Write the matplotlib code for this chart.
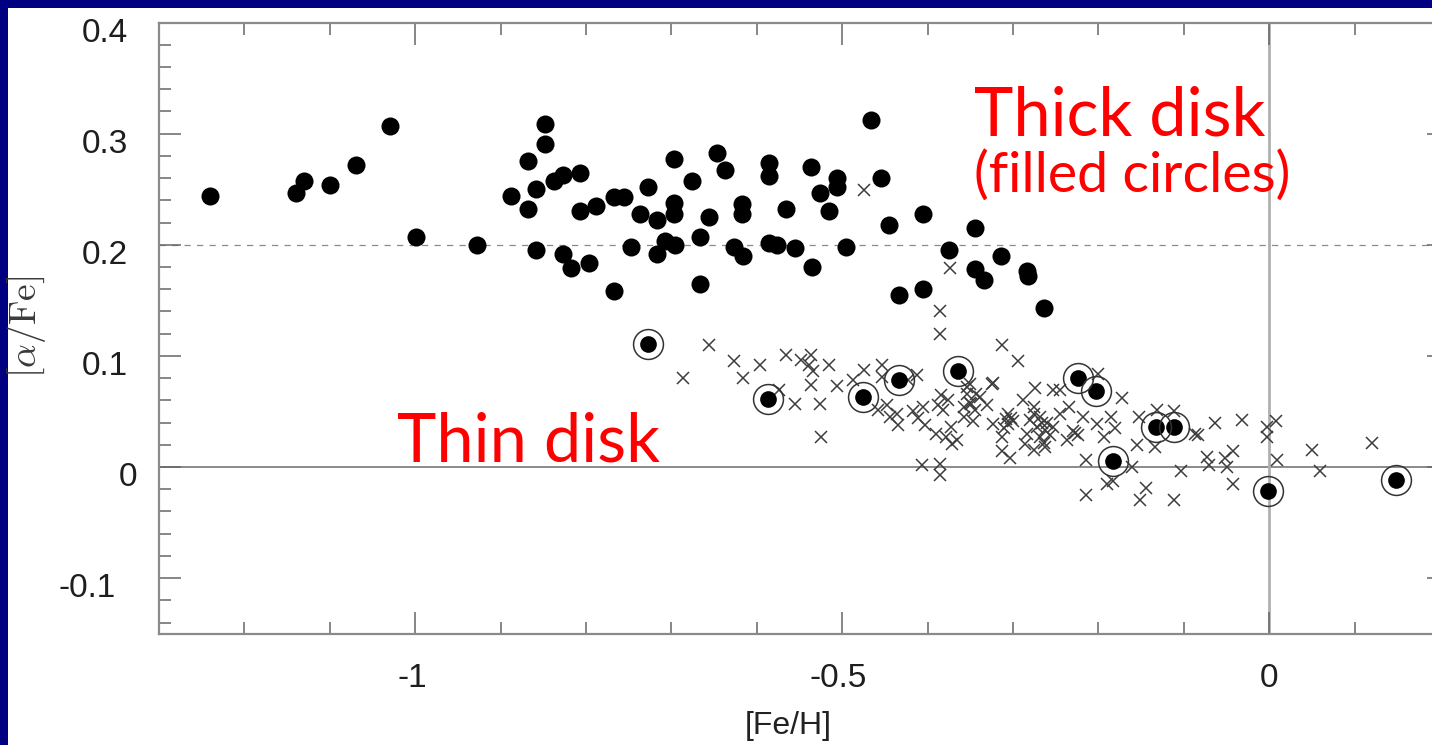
import matplotlib
matplotlib.use('Agg')
import matplotlib.pyplot as plt
from matplotlib.patches import Rectangle
from matplotlib.ticker import MultipleLocator
from matplotlib.transforms import ScaledTranslation

# ---------------- data ----------------
# Thick disk stars (filled circles)
thick_feh = [-1.240, -1.140, -1.130, -1.100, -1.069, -1.029, -0.999, -0.928, -0.888, -0.868,
             -0.868, -0.858, -0.858, -0.848, -0.848, -0.838, -0.827, -0.827, -0.818, -0.807,
             -0.807, -0.797, -0.788, -0.767, -0.756, -0.727, -0.737, -0.717, -0.697, -0.697,
             -0.697, -0.676, -0.647, -0.637, -0.656, -0.617, -0.617, -0.586, -0.586, -0.566,
             -0.536, -0.526, -0.506, -0.506, -0.515, -0.466, -0.455, -0.445, -0.405, -0.345,
             -0.375, -0.314, -0.345, -0.334, -0.284, -0.283, -0.264, -0.434, -0.405, -0.747,
             -0.717, -0.707, -0.696, -0.667, -0.666, -0.627, -0.616, -0.586, -0.576, -0.555,
             -0.535, -0.496, -0.767]
thick_alpha = [0.244, 0.247, 0.257, 0.254, 0.272, 0.307, 0.207, 0.200, 0.244, 0.275,
               0.232, 0.250, 0.195, 0.309, 0.291, 0.257, 0.263, 0.192, 0.179, 0.265,
               0.230, 0.184, 0.235, 0.243, 0.243, 0.252, 0.228, 0.222, 0.277, 0.238,
               0.228, 0.257, 0.283, 0.267, 0.225, 0.237, 0.228, 0.274, 0.262, 0.232,
               0.270, 0.247, 0.260, 0.252, 0.230, 0.312, 0.260, 0.218, 0.228, 0.215,
               0.195, 0.190, 0.178, 0.168, 0.176, 0.172, 0.143, 0.155, 0.160, 0.198,
               0.192, 0.203, 0.200, 0.207, 0.165, 0.198, 0.190, 0.202, 0.200, 0.197,
               0.180, 0.198, 0.158]

# Thick disk stars lying in the thin-disk sequence (encircled filled circles)
ring_feh = [-0.727, -0.587, -0.476, -0.434, -0.364, -0.224, -0.203, -0.133, -0.112, -0.183,
            -0.002, 0.148]
ring_alpha = [0.111, 0.061, 0.063, 0.078, 0.086, 0.080, 0.068, 0.036, 0.036, 0.005,
              -0.022, -0.012]

# Thin disk stars (crosses)
thin_feh = [-0.475, -0.374, -0.386, -0.386,
            -0.656, -0.687, -0.627, -0.616, -0.596, -0.566, -0.548, -0.536, -0.539, -0.516,
            -0.536, -0.506, -0.555, -0.526, -0.525, -0.574, -0.487, -0.475, -0.454, -0.313,
            -0.294, -0.323, -0.407, -0.386, -0.386, -0.304, -0.313, -0.534, -0.350, -0.343,
            -0.454, -0.413, -0.423, -0.458, -0.448, -0.436, -0.435, -0.444, -0.417, -0.411,
            -0.405, -0.403, -0.384, -0.388, -0.376, -0.382, -0.354, -0.349, -0.345, -0.358,
            -0.358, -0.339, -0.331, -0.325, -0.347, -0.354, -0.390, -0.378, -0.372, -0.366,
            -0.373, -0.323, -0.313, -0.306, -0.306, -0.302, -0.310, -0.288, -0.274, -0.284,
            -0.286, -0.276, -0.272, -0.269, -0.276, -0.263, -0.257, -0.253, -0.245, -0.253,
            -0.245, -0.235, -0.237, -0.230, -0.224, -0.218, -0.214, -0.214, -0.200, -0.202,
            -0.194, -0.185, -0.181, -0.183, -0.190,
            -0.276, -0.173, -0.161, -0.153, -0.155, -0.144, -0.151, -0.132, -0.134, -0.112,
            -0.103, -0.112, -0.083, -0.087, -0.073, -0.071, -0.064, -0.052, -0.042, -0.050,
            -0.042, -0.032, -0.003, -0.003, 0.008, 0.009, 0.050, 0.059, 0.120,
            -0.300, -0.308, -0.350, -0.227, -0.262, -0.266, -0.264, -0.280, -0.268, -0.260]
thin_alpha = [0.249, 0.179, 0.140, 0.120,
              0.110, 0.080, 0.095, 0.080, 0.092, 0.101, 0.096, 0.101, 0.092, 0.092,
              0.074, 0.073, 0.057, 0.057, 0.027, 0.069, 0.078, 0.087, 0.092, 0.110,
              0.095, 0.076, 0.002, 0.003, -0.007, 0.008, 0.014, 0.086, 0.075, 0.066,
              0.081, 0.083, 0.078, 0.051, 0.056, 0.048, 0.038, 0.045, 0.050, 0.044,
              0.054, 0.038, 0.065, 0.056, 0.060, 0.051, 0.066, 0.057, 0.051, 0.054,
              0.045, 0.063, 0.056, 0.075, 0.041, 0.072, 0.030, 0.027, 0.021, 0.024,
              0.036, 0.039, 0.027, 0.048, 0.039, 0.044, 0.035, 0.060, 0.071, 0.030,
              0.021, 0.048, 0.036, 0.027, 0.015, 0.018, 0.029, 0.069, 0.069, 0.036,
              0.048, 0.054, 0.024, 0.032, 0.029, 0.045, 0.006, -0.025, 0.084, 0.039,
              0.027, 0.045, 0.035, -0.013, -0.015,
              0.054, 0.062, 0.000, 0.045, 0.020, -0.019, -0.030, 0.051, 0.018, 0.050,
              -0.004, -0.030, 0.029, 0.030, 0.009, 0.002, 0.040, 0.008, 0.014, 0.000,
              -0.015, 0.042, 0.036, 0.027, 0.041, 0.006, 0.015, -0.004, 0.022,
              0.041, 0.043, 0.058, 0.031, 0.033, 0.040, 0.022, 0.042, 0.045, 0.040]

x_ticks = [-1, -0.5, 0]
x_ticklabels = ['-1', '-0.5', '0']
y_ticks = [-0.1, 0, 0.1, 0.2, 0.3, 0.4]
y_ticklabels = ['-0.1', '0', '0.1', '0.2', '0.3', '0.4']

# ---------------- figure ----------------
plt.rcParams['font.family'] = ['Liberation Sans', 'DejaVu Sans']
plt.rcParams['mathtext.fontset'] = 'cm'

W, H = 1432, 745
fig = plt.figure(figsize=(W / 100, H / 100), dpi=100, facecolor='#000080')
fig.patches.append(Rectangle((8 / W, 0), 1, 1 - 8 / H, transform=fig.transFigure,
                             facecolor='white', edgecolor='none', zorder=-10))

AX_L, AX_R, AX_T, AX_B = 159.0, 1448.6, 22.6, 633.7   # pixel box of the axes
ax = fig.add_axes([AX_L / W, (H - AX_B) / H, (AX_R - AX_L) / W, (AX_B - AX_T) / H])
ax.set_facecolor('white')
ax.set_xlim(-1.3, 0.21)
ax.set_ylim(-0.15, 0.4)

ax.axhline(0.2, color='#8a8a8a', lw=0.9, ls=(0, (5, 5)), zorder=1)
ax.axhline(0.0, color='#8a8a8a', lw=1.4, zorder=1)
ax.axvline(0.0, color='#b0b0b0', lw=2.0, zorder=1)

ax.plot(thin_feh, thin_alpha, ls='none', marker='x', ms=8.8, mew=1.1,
        color='#3c3c3c', zorder=3)
ax.plot(thick_feh, thick_alpha, ls='none', marker='o', ms=13, mfc='black',
        mec='black', mew=0, zorder=4)
ax.plot(ring_feh, ring_alpha, ls='none', marker='o', ms=12, mfc='black',
        mec='black', mew=0, zorder=5)
ax.plot(ring_feh, ring_alpha, ls='none', marker='o', ms=21.5, mfc='none',
        mec='#333333', mew=1.1, zorder=5)

for s in ax.spines.values():
    s.set_color('#8a8a8a')
    s.set_linewidth(1.6)

ax.set_xticks(x_ticks)
ax.set_yticks(y_ticks)
ax.xaxis.set_minor_locator(MultipleLocator(0.1))
ax.yaxis.set_minor_locator(MultipleLocator(0.02))
ax.tick_params(which='both', direction='in', top=True, right=True, color='#666666',
               width=1.1, labelbottom=False, labelleft=False)
ax.tick_params(which='major', length=15.8)
ax.tick_params(which='minor', length=8.6)

# tick labels placed like the original (numbers sit slightly below their ticks,
# aligned on the decimal point)
TICK_FS = 24
y_right_px = {'0.4': 128, '0.3': 128, '0.2': 128, '0.1': 128, '0': 137, '-0.1': 116}
ytrans = ax.get_yaxis_transform() + ScaledTranslation(0, -19 / 100, fig.dpi_scale_trans)
for v, lab in zip(y_ticks, y_ticklabels):
    ax.text((y_right_px[lab] - AX_L) / (AX_R - AX_L), v, lab, transform=ytrans,
            ha='right', va='baseline', fontsize=TICK_FS, color='#1e1e1e', clip_on=False)

x_shift_px = {'-1': -3, '-0.5': -4, '0': 0}
for v, lab in zip(x_ticks, x_ticklabels):
    xtrans = ax.get_xaxis_transform() + ScaledTranslation(x_shift_px[lab] / 100, 0,
                                                          fig.dpi_scale_trans)
    ax.text(v, (AX_B - 687) / (AX_B - AX_T), lab, transform=xtrans, ha='center',
            va='baseline', fontsize=TICK_FS, color='#1e1e1e', clip_on=False)

ax.set_xlabel('[Fe/H]', fontsize=23, color='#222222')
ax.xaxis.set_label_coords(0.488, -0.127)

fig.text(26 / W, 1 - 327 / H, r'$[\alpha/\mathrm{Fe}]$', rotation=90, ha='center',
         va='center', fontsize=27, color='#3a3a3a')

fig.text(974 / W, 1 - 135 / H, 'Thick disk', color='red', fontsize=48,
         family='Lato', va='baseline', ha='left')
fig.text(974 / W, 1 - 192 / H, '(filled circles)', color='red', fontsize=40,
         family='Lato', va='baseline', ha='left')
fig.text(397 / W, 1 - 462 / H, 'Thin disk', color='red', fontsize=48,
         family='Lato', va='baseline', ha='left')

fig.savefig('out.png', dpi=100, facecolor=fig.get_facecolor())
